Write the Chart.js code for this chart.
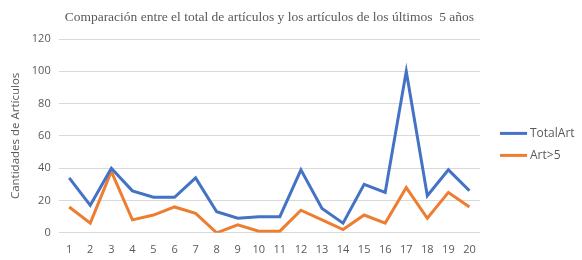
<!DOCTYPE html>
<html lang="en">
<head>
    <meta charset="UTF-8">
    <title>Comparación de artículos</title>
    <script src="https://cdn.jsdelivr.net/npm/chart.js"></script>
    <style>
        html, body { margin: 0; padding: 0; background: #fff; }
        #wrap { width: 582px; height: 260px; }
    </style>
</head>
<body>
    <div id="wrap"><canvas id="articulosChart" width="582" height="260"></canvas></div>
    <script>
        // data
        const categories = ['1','2','3','4','5','6','7','8','9','10','11','12','13','14','15','16','17','18','19','20'];
        const totalArt = [34, 17, 40, 26, 22, 22, 34, 13, 9, 10, 10, 39, 15, 6, 30, 25, 100, 23, 39, 26];
        const artMas5 = [16, 6, 38, 8, 11, 16, 12, 0, 5, 1, 1, 14, 8, 2, 11, 6, 28, 9, 25, 16];
        const seriesNames = ['TotalArt', 'Art>5'];
        const chartTitle = 'Comparación entre el total de artículos y los artículos de los últimos  5 años';
        const yAxisTitle = 'Cantidades de Artículos';

        const gray = '#595959';
        const sans = "'Open Sans', 'Liberation Sans', sans-serif";

        // title centred over the plot area and an Excel-style legend at the right
        const excelDecor = {
            id: 'excelDecor',
            afterDraw(c) {
                const g = c.ctx;
                const area = c.chartArea;
                g.save();
                g.fillStyle = gray;
                g.font = "13.5px 'Liberation Serif', serif";
                g.textAlign = 'center';
                g.textBaseline = 'middle';
                g.fillText(chartTitle, (area.left + area.right) / 2, 17);

                g.font = '12px ' + sans;
                g.textAlign = 'left';
                let mid = (area.top + area.bottom) / 2;
                c.data.datasets.forEach((ds, i) => {
                    let y = mid - 2.5 + i * 22;
                    let x = area.right + 20;
                    g.strokeStyle = ds.borderColor;
                    g.lineWidth = 3;
                    g.beginPath();
                    g.moveTo(x, y);
                    g.lineTo(x + 27, y);
                    g.stroke();
                    g.fillText(ds.label, x + 30, y);
                });
                g.restore();
            }
        };

        let ctx = document.getElementById('articulosChart').getContext('2d');
        let chart = new Chart(ctx, {
            type: 'line',
            data: {
                labels: categories,
                datasets: [{
                    label: seriesNames[0],
                    data: totalArt,
                    borderColor: '#4472c4',
                    backgroundColor: '#4472c4',
                    borderWidth: 3,
                    pointRadius: 0,
                    tension: 0
                }, {
                    label: seriesNames[1],
                    data: artMas5,
                    borderColor: '#ed7d31',
                    backgroundColor: '#ed7d31',
                    borderWidth: 3,
                    pointRadius: 0,
                    tension: 0
                }]
            },
            options: {
                responsive: false,
                animation: false,
                layout: { padding: { left: 8, right: 102, top: 39, bottom: 2 } },
                plugins: {
                    title: { display: false },
                    legend: { display: false },
                    tooltip: { enabled: false }
                },
                scales: {
                    x: {
                        offset: true,
                        grid: { display: false },
                        border: { display: false },
                        ticks: { color: gray, font: { family: sans, size: 11 }, maxRotation: 0, padding: 2 }
                    },
                    y: {
                        min: 0,
                        max: 120,
                        ticks: { stepSize: 20, color: gray, font: { family: sans, size: 11 }, padding: 8 },
                        grid: { color: '#d9d9d9', drawTicks: false },
                        border: { display: false },
                        title: {
                            display: true,
                            text: yAxisTitle,
                            color: gray,
                            font: { family: sans, size: 11.5 },
                            padding: 1
                        }
                    }
                }
            },
            plugins: [excelDecor]
        });
    </script>
</body>
</html>
